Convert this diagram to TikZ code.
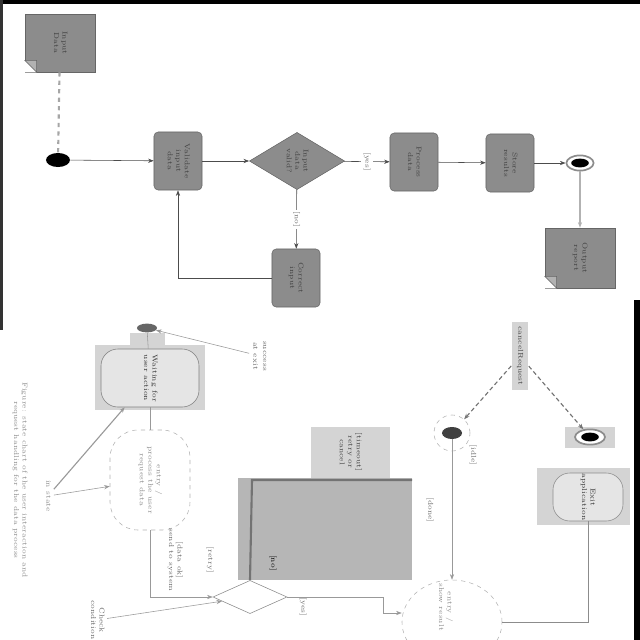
\documentclass[tikz,border=0pt]{standalone}
\usepackage{graphicx}
\usepackage{tikz}
\usetikzlibrary{shapes.geometric,arrows.meta,positioning,calc}
\definecolor{actGray}{RGB}{140,140,140}
\definecolor{laneGray}{RGB}{182,182,182}
\definecolor{paleGray}{RGB}{212,212,212}
\newcommand{\vtext}[1]{\rotatebox[origin=c]{-90}{\begin{tabular}{@{}c@{}}#1\end{tabular}}}

\begin{document}
\begin{tikzpicture}[x=0.025cm,y=-0.025cm,
  act/.style={rectangle,draw=black!60,fill=actGray,rounded corners=3pt,
              minimum width=1.2cm,minimum height=1.45cm,inner sep=1pt,font=\tiny,text=black!75},
  memo/.style={rectangle,draw=black!60,fill=actGray,minimum width=1.75cm,
               minimum height=1.45cm,inner sep=1pt,font=\tiny,text=black!75},
  choice/.style={diamond,draw=black!60,fill=actGray,minimum width=2.38cm,
                 minimum height=1.43cm,inner sep=0pt,font=\tiny,text=black!75},
  startdot/.style={ellipse,fill=black,minimum width=0.6cm,minimum height=0.35cm,inner sep=0pt},
  enddot/.style={ellipse,draw=black!45,line width=1.2pt,fill=white,minimum width=0.68cm,
                 minimum height=0.38cm,inner sep=0pt,
                 path picture={\fill[black] (path picture bounding box.center) ellipse (0.22cm and 0.11cm);}},
  faint/.style={draw=black!30,dashed,fill=white,font=\tiny,text=black!45,inner sep=1pt},
  tag/.style={font=\tiny,text=black!60,inner sep=1pt},
  arr/.style={-{Stealth[length=4pt]},black!70},
  larr/.style={-{Stealth[length=4pt]},black!40},
  sarr/.style={-{Stealth[length=4pt]},black!55,densely dashed,thick}
]
  \useasboundingbox (0,0) rectangle (640,640);
  % frame edges
  \fill[black] (0,0) rectangle (640,4);
  \fill[black!80] (0,0) rectangle (3,330);
  \fill[black] (634,300) rectangle (640,640);

  % ---- upper flow
  \node[memo](dataIn)  at (60,43)   {\vtext{Input\\Data}};
  \node[startdot](start) at (58,160) {};
  \node[act](check)    at (178,161) {\vtext{Validate\\input\\data}};
  \node[choice](valid) at (297,161) {\vtext{Input\\data\\valid?}};
  \node[act](fix)      at (296,278) {\vtext{Correct\\input}};
  \node[act](proc)     at (414,162) {\vtext{Process\\data}};
  \node[act](store)    at (510,163) {\vtext{Store\\results}};
  \node[enddot](finish) at (580,163) {};
  \node[memo,minimum height=1.5cm](dataOut) at (580,258) {\vtext{Output\\report}};
  % folded corners
  \foreach \n in {dataIn,dataOut}{
    \fill[white] (\n.south west) -- ++(0.3cm,0) -- ++(-0.3cm,0.3cm) -- cycle;
    \filldraw[fill=black!30,draw=black!60] ($(\n.south west)+(0,0.3cm)$) -- ++(0.3cm,-0.3cm)
      -- ++(0,0.3cm) -- cycle;
  }

  \draw[black!35,dashed,line width=1.5pt](dataIn)--(start);
  \draw[arr](start)--(check);
  \draw[arr](check)--(valid);
  \draw[arr](valid)--node[tag,fill=white]{\vtext{[yes]}}(proc);
  \draw[arr](valid)--node[tag,fill=white]{\vtext{[no]}}(fix);
  \draw[arr](fix)-|(check);
  \draw[arr](proc)--(store);
  \draw[arr](store)--(finish);
  \draw[-{Stealth[length=4pt]},black!30,line width=2pt](finish)--(dataOut);

  % ---- lower part
  \fill[laneGray] (238,478) rectangle (412,580);
  \fill[paleGray] (311,427) rectangle (390,478);
  \node[tag,text=black!75](guard) at (350,452) {\vtext{[timeout]\\retry or\\cancel}};
  \fill[paleGray] (95,345) rectangle (205,410);
  \fill[paleGray] (130,333) rectangle (165,348);
  \node[ellipse,fill=black!60,minimum width=0.5cm,minimum height=0.22cm,inner sep=0pt](hist) at (147,328) {};
  \node[draw=black!50,fill=white!90!black,rounded corners=12pt,minimum width=2.45cm,
        minimum height=1.45cm,font=\tiny,text=black!80](waitSt) at (150,378)
        {\vtext{Waiting for\\user action}};
  \node[faint,rounded corners=20pt,minimum width=2.0cm,minimum height=2.5cm](runSt) at (150,480)
        {\vtext{entry /\\process the user\\request data}};
  \node[diamond,draw=black!45,fill=white,minimum width=1.85cm,minimum height=0.83cm,
        inner sep=0pt](cond) at (250,597) {};
  \node[ellipse,draw=black!30,dashed,minimum width=2.5cm,minimum height=2.1cm](doneSt) at (452,622) {};
  \node[tag,text=black!45](doneTxt) at (445,607) {\vtext{entry /\\show result}};
  \node[ellipse,draw=black!30,dashed,minimum width=0.9cm,minimum height=0.9cm,inner sep=0pt](ringA) at (452,433) {};
  \node[startdot,fill=black!75,minimum width=0.5cm,minimum height=0.3cm](startA) at (452,433) {};
  \fill[paleGray] (565,427) rectangle (615,448);
  \node[enddot,minimum width=0.75cm](endB) at (590,437) {};
  \fill[paleGray] (537,468) rectangle (630,525);
  \node[draw=black!45,fill=white!90!black,rounded corners=12pt,minimum width=1.75cm,minimum height=1.2cm,
        font=\tiny,text=black!80,inner sep=0pt](exitSt) at (588,497) {\vtext{Exit\\application}};
  \node[tag,fill=paleGray,text=black!75,inner sep=3pt](evt) at (520,356) {\vtext{cancelRequest}};

  % lane border
  \draw[black!55,line width=1.5pt](cond.north)--(252,480)--(412,480);

  \draw[black!40](hist)--(waitSt);
  \draw[black!40](waitSt)--(runSt);
  \draw[larr](runSt)|-(cond);
  \coordinate(bendC) at (383,597);
  \coordinate(bendD) at (383,613);
  \draw[larr](cond)--(bendC)--(bendD)--(bendD-|doneSt.west);
  \draw[larr](startA)--(doneSt);
  \draw[black!45](exitSt)|-(doneSt);
  \draw[sarr](evt)--(ringA);
  \draw[sarr](evt)--(endB);

  % annotations
  \node[tag](succ) at (260,356) {\vtext{success\\[1pt]at exit}};
  \draw[larr](succ)--(hist);
  \node[tag,text=black!45](inNote) at (48,496) {\vtext{in state}};
  \draw[larr,thick](inNote)--(waitSt);
  \draw[larr](inNote)--(runSt);
  \node[tag,text=black!45](caption) at (20,480)
        {\vtext{Figure: state chart of the user interaction and\\request handling for the data process}};
  \node[tag](condNote) at (97,620) {\vtext{Check\\condition}};
  \draw[larr](condNote)--(cond);
  \node[tag](lblA) at (175,560) {\vtext{[data ok]\\send to system}};
  \node[tag](lblB) at (210,560) {\vtext{[retry]}};
  \node[tag,text=black](lblNo) at (273,563) {\vtext{[no]}};
  \node[tag](lblYes) at (303,607) {\vtext{[yes]}};
  \node[tag](lblDone) at (430,510) {\vtext{[done]}};
  \node[tag](lblIdle) at (473,455) {\vtext{[idle]}};
\end{tikzpicture}
\end{document}
